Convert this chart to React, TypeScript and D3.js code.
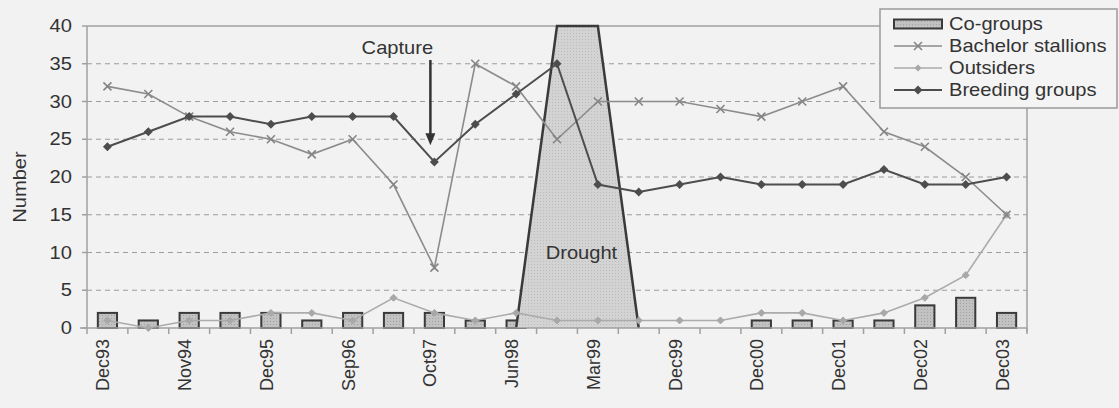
import React from "react";
import * as d3 from "d3";

const categories = [
  "Dec93", "", "Nov94", "", "Dec95", "", "Sep96", "", "Oct97", "", "Jun98", "",
  "Mar99", "", "Dec99", "", "Dec00", "", "Dec01", "", "Dec02", "", "Dec03",
];
const coGroups = [2, 1, 2, 2, 2, 1, 2, 2, 2, 1, 1, 0, 0, 0, 0, 0, 1, 1, 1, 1, 3, 4, 2];
const bachelorStallions = [32, 31, 28, 26, 25, 23, 25, 19, 8, 35, 32, 25, 30, 30, 30, 29, 28, 30, 32, 26, 24, 20, 15];
const outsiders = [1, 0, 1, 1, 2, 2, 1, 4, 2, 1, 2, 1, 1, 1, 1, 1, 2, 2, 1, 2, 4, 7, 15];
const breedingGroups = [24, 26, 28, 28, 27, 28, 28, 28, 22, 27, 31, 35, 19, 18, 19, 20, 19, 19, 19, 21, 19, 19, 20];
const drought: (number | null)[] = [null, null, null, null, null, null, null, null, null, null, 0, 40, 40, 0, null, null, null, null, null, null, null, null, null];
const yTicks = [0, 5, 10, 15, 20, 25, 30, 35, 40];
const legendItems = ["Co-groups", "Bachelor stallions", "Outsiders", "Breeding groups"];

const W = 1119;
const H = 408;
const L = 87, R = 1027, T = 26, B = 328;
const FONT = "'Liberation Sans', Arial, sans-serif";
const TXT = "#333";

export default function App() {
  const idx = categories.map((_, i) => i);
  const x = d3.scaleBand<number>().domain(idx).range([L, R]).padding(0);
  const y = d3.scaleLinear().domain([0, 40]).range([B, T]);
  const cx = (i: number) => (x(i) as number) + x.bandwidth() / 2;
  const bw = x.bandwidth() * 0.47;

  const line = d3
    .line<number>()
    .x((_, i) => cx(i))
    .y((d) => y(d));

  const droughtArea = d3
    .area<number | null>()
    .defined((d) => d !== null)
    .x((_, i) => cx(i))
    .y0(y(0))
    .y1((d) => y(d as number));
  const droughtOutline = d3
    .line<number | null>()
    .defined((d) => d !== null)
    .x((_, i) => cx(i))
    .y((d) => y(d as number));

  const diamond = (px: number, py: number, r: number) =>
    `M${px},${py - r}L${px + r},${py}L${px},${py + r}L${px - r},${py}Z`;
  const cross = (px: number, py: number, r: number) =>
    `M${px - r},${py - r}L${px + r},${py + r}M${px - r},${py + r}L${px + r},${py - r}`;

  const HText = ({ x0, y0, children, anchor = "start", size = 17.5, rot = 0 }: any) => (
    <text
      transform={`translate(${x0},${y0}) rotate(${rot}) scale(1.15,1)`}
      textAnchor={anchor}
      fontFamily={FONT}
      fontSize={size}
      fill={TXT}
    >
      {children}
    </text>
  );

  const captureI = 8;
  const droughtMid = (cx(11) + cx(12)) / 2;
  const legX = 880, legY = 9, legW = 237, legH = 99;
  const rowY = (k: number) => 24 + k * 22;

  return (
    <svg
      width={W}
      height={H}
      style={{ position: "absolute", left: 0, top: 0, background: "#f2f2f2" }}
    >
      <defs>
        <pattern id="dots" width="3" height="3" patternUnits="userSpaceOnUse">
          <rect width="3" height="3" fill="#c2c2c2" />
          <rect width="1" height="1" fill="#a2a2a2" />
        </pattern>
        <pattern id="dots2" width="3" height="3" patternUnits="userSpaceOnUse">
          <rect width="3" height="3" fill="#d3d3d3" />
          <rect width="1" height="1" fill="#bcbcbc" />
        </pattern>
      </defs>
      <rect width={W} height={H} fill="#f2f2f2" />

      {/* gridlines */}
      {yTicks.filter((t) => t > 0 && t < 40).map((t) => (
        <line key={t} x1={L} x2={R} y1={y(t)} y2={y(t)} stroke="#9c9c9c" strokeWidth={1.2} strokeDasharray="5,4" />
      ))}
      {/* frame */}
      <line x1={L} x2={R} y1={y(40)} y2={y(40)} stroke="#a0a0a0" strokeWidth={1.5} />
      <line x1={R} x2={R} y1={T} y2={B + 4} stroke="#a0a0a0" strokeWidth={1.5} />
      <line x1={L} x2={L} y1={T} y2={B} stroke="#a0a0a0" strokeWidth={1.5} />
      {yTicks.map((t) => (
        <g key={"yt" + t}>
          <line x1={L - 5} x2={L} y1={y(t)} y2={y(t)} stroke="#a0a0a0" strokeWidth={1.5} />
          <HText x0={L - 15} y0={y(t) + 6} anchor="end">{t}</HText>
        </g>
      ))}
      <HText x0={26} y0={(T + B) / 2 + 10} anchor="middle" rot={-90}>Number</HText>

      {/* bars */}
      {coGroups.map((v, i) =>
        v > 0 ? (
          <rect key={"b" + i} x={cx(i) - bw / 2} y={y(v)} width={bw} height={y(0) - y(v)} fill="url(#dots)" stroke="#3a3a3a" strokeWidth={2} />
        ) : null
      )}

      {/* drought */}
      <path d={droughtArea(drought) || ""} fill="url(#dots2)" stroke="none" />
      <path d={droughtOutline(drought) || ""} fill="none" stroke="#3a3a3a" strokeWidth={2.5} />

      {/* x axis */}
      <line x1={L - 7} x2={R} y1={B} y2={B} stroke="#a0a0a0" strokeWidth={1.5} />
      {idx.concat([idx.length]).map((i) => {
        const xx = i < idx.length ? (x(i) as number) : R;
        return <line key={"xt" + i} x1={xx} x2={xx} y1={B} y2={B + 6} stroke="#a0a0a0" strokeWidth={1.5} />;
      })}
      {categories.map((c, i) =>
        c ? (
          <text key={"xl" + i} transform={`translate(${cx(i) + 2},${B + 11}) rotate(-90)`} textAnchor="end" fontFamily={FONT} fontSize={18} fill={TXT}>
            {c}
          </text>
        ) : null
      )}

      {/* outsiders */}
      <path d={line(outsiders) || ""} fill="none" stroke="#ababab" strokeWidth={1.6} />
      {outsiders.map((v, i) => (
        <path key={"o" + i} d={diamond(cx(i), y(v), 3.5)} fill="#a8a8a8" stroke="#a8a8a8" strokeWidth={1} />
      ))}

      {/* bachelor stallions */}
      <path d={line(bachelorStallions) || ""} fill="none" stroke="#8c8c8c" strokeWidth={1.6} />
      {bachelorStallions.map((v, i) => (
        <path key={"s" + i} d={cross(cx(i), y(v), 4)} stroke="#858585" strokeWidth={1.6} fill="none" />
      ))}

      {/* breeding groups */}
      <path d={line(breedingGroups) || ""} fill="none" stroke="#4d4d4d" strokeWidth={2} />
      {breedingGroups.map((v, i) => (
        <path key={"g" + i} d={diamond(cx(i), y(v), 4.5)} fill="#4d4d4d" />
      ))}

      {/* annotations */}
      <HText x0={cx(captureI) - 37} y0={y(36.3)} anchor="middle">Capture</HText>
      <line x1={cx(captureI) - 4} x2={cx(captureI) - 4} y1={y(35.5)} y2={y(25.5)} stroke="#333" strokeWidth={2.5} />
      <path
        d={`M${cx(captureI) - 9},${y(25.8)}L${cx(captureI) + 1},${y(25.8)}L${cx(captureI) - 4},${y(24.2)}Z`}
        fill="#333"
      />
      <HText x0={droughtMid + 4} y0={y(9.2)} anchor="middle">Drought</HText>

      {/* legend */}
      <rect x={legX} y={legY} width={legW} height={legH} fill="#f4f4f4" stroke="#9a9a9a" strokeWidth={1.5} />
      {legendItems.map((name, k) => {
        const ry = rowY(k);
        const x1 = 894, x2 = 942, xm = (x1 + x2) / 2;
        return (
          <g key={name}>
            {k === 0 && <rect x={x1} y={ry - 4.5} width={x2 - x1} height={9} fill="url(#dots)" stroke="#3a3a3a" strokeWidth={2} />}
            {k === 1 && (
              <g>
                <line x1={x1} x2={x2} y1={ry} y2={ry} stroke="#8c8c8c" strokeWidth={1.6} />
                <path d={cross(xm, ry, 4)} stroke="#858585" strokeWidth={1.6} />
              </g>
            )}
            {k === 2 && (
              <g>
                <line x1={x1} x2={x2} y1={ry} y2={ry} stroke="#ababab" strokeWidth={1.6} />
                <path d={diamond(xm, ry, 3.5)} fill="#a8a8a8" />
              </g>
            )}
            {k === 3 && (
              <g>
                <line x1={x1} x2={x2} y1={ry} y2={ry} stroke="#4d4d4d" strokeWidth={2} />
                <path d={diamond(xm, ry, 4.5)} fill="#4d4d4d" />
              </g>
            )}
            <HText x0={949} y0={ry + 6}>{name}</HText>
          </g>
        );
      })}
    </svg>
  );
}
